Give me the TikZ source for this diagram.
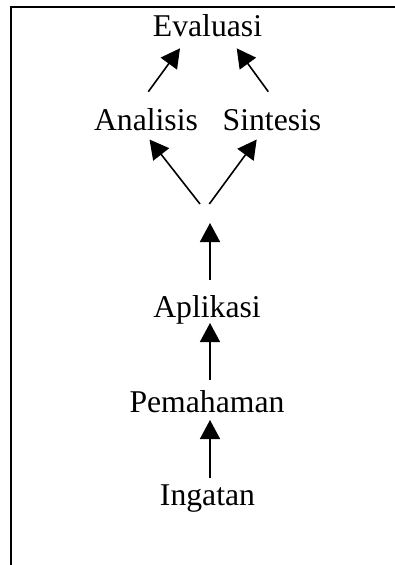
\documentclass[tikz,border=0pt]{standalone}
\usepackage{fontspec}
\setmainfont{Liberation Serif}
\usetikzlibrary{arrows.meta}
\begin{document}
\begin{tikzpicture}[x=1pt,y=-1pt,
  lbl/.style={anchor=base,inner sep=0pt,font=\fontsize{31.7}{38}\selectfont},
  arr/.style={line width=1.6pt,-{Triangle[length=19pt,width=20pt]}},
  frame/.style={line width=2.3pt}]
\useasboundingbox (0,0) rectangle (395,565);
% frame
\draw[frame] (11,565) -- (11,6.7) -- (395,6.7);
% labels
\node[lbl] (E)  at (207.5,36.7) {Evaluasi};
\node[lbl] (An) at (146,130) {Analisis};
\node[lbl] (Si) at (272,130) {Sintesis};
\node[lbl] (Ap) at (207,317) {Aplikasi};
\node[lbl] (Pe) at (207,412) {Pemahaman};
\node[lbl] (In) at (207.5,505) {Ingatan};
% connector end points
\coordinate (anT) at (148.3,91.7);
\coordinate (eL)  at (180,48.3);
\coordinate (siT) at (268.3,91.7);
\coordinate (eR)  at (236.7,48.3);
\coordinate (sL)  at (200,204);
\coordinate (anB) at (149.5,139.5);
\coordinate (sR)  at (209.3,204);
\coordinate (siB) at (256.7,139.5);
\coordinate (apT) at (210,280);
\coordinate (sB)  at (210,223);
\coordinate (peT) at (210,380);
\coordinate (apB) at (210,323);
\coordinate (inT) at (210,478);
\coordinate (peB) at (210,420);
% connectors
\draw[arr] (anT) -- (eL);
\draw[arr] (siT) -- (eR);
\draw[arr] (sL) -- (anB);
\draw[arr] (sR) -- (siB);
\draw[arr] (apT) -- (sB);
\draw[arr] (peT) -- (apB);
\draw[arr] (inT) -- (peB);
\end{tikzpicture}
\end{document}
